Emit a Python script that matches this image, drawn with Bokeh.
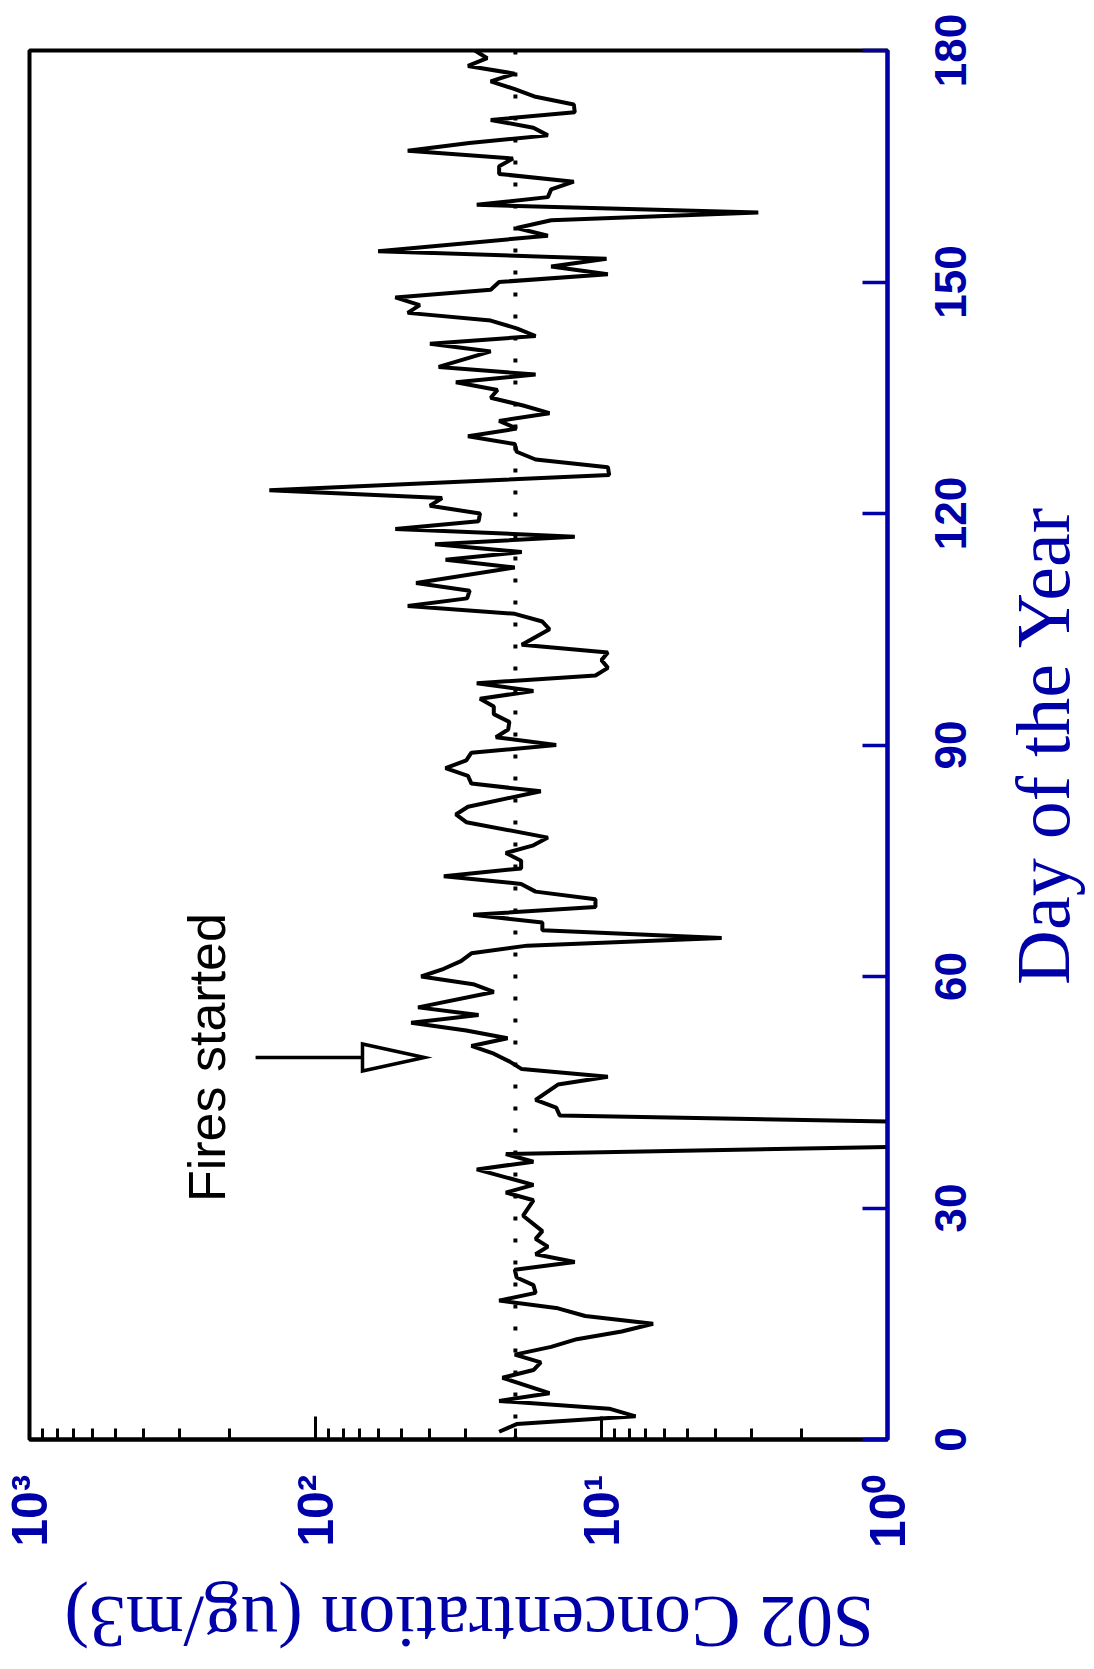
import math

from bokeh.core.properties import value
from bokeh.embed import file_html
from bokeh.layouts import column, row
from bokeh.models import FixedTicker, Label, Range1d, Span
from bokeh.plotting import figure
from bokeh.resources import INLINE

# Daily SO2 concentration (ug/m3) by day of the year
days = [1, 2, 3, 4, 5, 6, 8, 9, 10, 11, 12, 13, 14, 15, 16, 17, 18, 19, 20, 21,
        22, 23, 24, 25, 26, 27, 29, 31, 32, 33, 35, 36, 37, 38, 41, 42, 43, 44,
        46, 47, 48, 49, 50, 51, 52, 53, 54, 55, 56, 58, 59, 60, 61, 62, 63, 64,
        65, 66, 67, 68, 69, 70, 71, 72, 73, 74, 75, 76, 77, 78, 80, 81, 82, 84,
        85, 86, 87, 88, 89, 90, 91, 92, 93, 94, 95, 96, 97, 98, 99, 100, 101,
        102, 103, 105, 106, 107, 108, 109, 110, 111, 113, 114, 115, 116, 117,
        118, 119, 120, 121, 122, 123, 125, 126, 127, 128, 129, 130, 131, 132,
        133, 134, 135, 136, 137, 138, 139, 141, 142, 143, 144, 145, 146, 147,
        148, 149, 150, 151, 152, 153, 154, 156, 157, 158, 159, 160, 161, 162,
        163, 164, 165, 166, 167, 168, 169, 170, 171, 172, 173, 174, 175, 176,
        177, 178, 179, 180]
so2 = [22.8, 19.8, 7.6, 9.4, 22.8, 15.2, 22.2, 17.3, 16.3, 20.1, 15.0, 12.2,
       8.5, 6.6, 11.4, 14.2, 22.8, 17.0, 17.3, 19.8,
       20.1, 12.4, 17.0, 15.4, 17.0, 16.1, 18.8, 17.3, 21.6, 17.3, 27.3, 17.3,
       21.6, 0.7, 0.5, 14.0, 14.4, 17.0,
       14.2, 9.5, 19.0, 21.0, 23.8, 28.5, 21.3, 29.7, 46.3, 26.9, 43.8, 23.8,
       28.1, 42.7, 35.6, 31.0, 28.5, 18.2,
       3.8, 16.1, 16.1, 28.1, 10.5, 10.5, 17.0, 19.1, 35.6, 19.1, 19.1, 21.6,
       17.3, 15.4, 29.7, 32.3, 29.3, 16.3,
       28.5, 29.3, 35.1, 29.7, 28.5, 14.4, 23.4, 21.2, 21.0, 23.8, 23.8, 26.6,
       17.3, 27.3, 10.5, 9.5, 10.0,
       9.5, 19.0, 15.2, 16.1, 20.1, 47.6, 29.5, 28.9, 44.5, 20.1, 35.1, 19.0,
       38.2, 12.4,
       52.6, 26.9, 26.6, 39.8, 36.1, 145.0, 9.4, 9.5, 17.0, 19.8, 20.1, 29.3,
       19.8, 22.8,
       15.2, 18.8, 24.4, 23.1, 32.3, 17.0, 37.1, 24.4, 39.8, 17.0, 19.8, 24.4,
       47.6, 43.2,
       52.6, 24.4, 22.8, 9.5, 15.0, 9.6, 60.4, 15.4, 19.8, 15.0, 2.83, 27.3,
       15.4, 15.0,
       12.5, 22.8, 22.8, 20.4, 47.6, 29.0, 15.4, 17.3, 24.4, 12.4, 12.5, 17.0,
       20.1, 24.4,
       20.1, 29.3, 25.1, 27.7]

standard_level = 20          # dotted reference level, ug/m3
fire_start_day = 49.5        # day the fires started
arrow_tail, arrow_base, arrow_tip = 162, 68.5, 41.6   # arrow extent, ug/m3
arrow_half_width = 1.75      # half height of the arrow head, days
fire_label_x = 240           # centre of the note, ug/m3

day_min, day_max = 0, 180
day_ticks = [0, 30, 60, 90, 120, 150, 180]
conc_ticks = [1, 10, 100, 1000]
conc_labels = {1: "10⁰", 10: "10¹", 100: "10²", 1000: "10³"}
conc_minor = [m * 10 ** e for e in range(3) for m in range(2, 10)]

BLUE = "#0000a8"

# page split: main plot, a strip under it for the x title,
# a strip on the right for the day labels and the y title
TOTAL_W, TOTAL_H = 1094, 1669
MAIN_W, MAIN_H = 925, 1575
FRAME_LEFT, FRAME_RIGHT = 29, 887
FRAME_TOP, FRAME_BOTTOM = 50, 1439

p = figure(width=MAIN_W, height=MAIN_H, output_backend="svg", toolbar_location=None,
           x_axis_type="log", x_range=Range1d(1000, 1), y_range=Range1d(day_min, day_max),
           x_axis_location="below", y_axis_location="right",
           min_border_left=FRAME_LEFT, min_border_right=MAIN_W - FRAME_RIGHT,
           min_border_top=FRAME_TOP, min_border_bottom=MAIN_H - FRAME_BOTTOM,
           background_fill_color="white", border_fill_color="white")

p.xgrid.visible = False
p.ygrid.visible = False
p.outline_line_color = "black"
p.outline_line_width = 4

# concentration axis (log)
xa = p.xaxis[0]
xa.ticker = FixedTicker(ticks=conc_ticks, minor_ticks=conc_minor)
xa.major_label_overrides = conc_labels
xa.major_label_orientation = math.pi / 2
xa.axis_line_color = "black"
xa.axis_line_width = 4
xa.major_tick_in = 23
xa.major_tick_out = 0
xa.minor_tick_in = 11
xa.minor_tick_out = 0
xa.major_tick_line_color = "black"
xa.major_tick_line_width = 3
xa.minor_tick_line_color = "black"
xa.minor_tick_line_width = 3
xa.major_label_standoff = 35
xa.major_label_text_color = BLUE
xa.major_label_text_font = "Liberation Sans"
xa.major_label_text_font_style = "bold"
xa.major_label_text_font_size = "50px"

# day-of-year axis: line and ticks here, its labels are set in the right strip
ya = p.yaxis[0]
ya.ticker = FixedTicker(ticks=day_ticks, minor_ticks=[])
ya.axis_line_color = BLUE
ya.axis_line_width = 4
ya.major_tick_in = 25
ya.major_tick_out = 0
ya.minor_tick_in = 0
ya.minor_tick_out = 0
ya.major_tick_line_color = BLUE
ya.major_tick_line_width = 3.5
ya.major_label_overrides = {t: "" for t in day_ticks}
ya.major_label_text_font_size = "1px"
ya.major_label_standoff = 0

# reference level
p.add_layout(Span(location=standard_level, dimension="height", line_color="black",
                  line_width=4, line_dash="4 18"))

# concentration series
p.line(so2, days, line_color="black", line_width=4, line_join="bevel")

# "Fires started" arrow
p.segment(x0=[arrow_tail], y0=[fire_start_day], x1=[arrow_base], y1=[fire_start_day],
          line_color="black", line_width=3.5)
p.patch([arrow_base, arrow_tip, arrow_base],
        [fire_start_day - arrow_half_width, fire_start_day, fire_start_day + arrow_half_width],
        fill_color="white", line_color="black", line_width=3.5, line_join="miter")
p.add_layout(Label(x=fire_label_x, y=fire_start_day, text="Fires started", angle=math.pi / 2,
                   text_align="center", text_baseline="middle",
                   text_font="Liberation Sans", text_font_size="52px",
                   text_color="black"))


def strip(width, height, y_range=None):
    """A bare panel with pixel x units, used for rotated texts beside the plot."""
    s = figure(width=width, height=height, output_backend="svg", toolbar_location=None,
               x_range=Range1d(0, width),
               y_range=y_range if y_range is not None else Range1d(0, height),
               x_axis_location=None, y_axis_location=None,
               min_border_left=0, min_border_right=0, min_border_top=0, min_border_bottom=0,
               background_fill_color="white", border_fill_color="white")
    s.xgrid.visible = False
    s.ygrid.visible = False
    s.outline_line_color = None
    return s


# x title, upside down under the tick labels
bottom = strip(MAIN_W, TOTAL_H - MAIN_H)
bottom.add_layout(Label(x=474, y=48, text="S02 Concentration (ug/m3)", angle=math.pi,
                        text_align="center", text_baseline="middle",
                        text_font="Liberation Serif", text_font_size="74px",
                        text_color=BLUE))

# right strip shares the day scale of the plot frame, extended over the margins
px_per_day = (FRAME_BOTTOM - FRAME_TOP) / (day_max - day_min)
day_span = Range1d(day_min - (TOTAL_H - FRAME_BOTTOM) / px_per_day,
                   day_max + FRAME_TOP / px_per_day)
right = strip(TOTAL_W - MAIN_W, TOTAL_H, y_range=day_span)

# day tick labels, reading upwards
right.text(x=[25] * len(day_ticks), y=day_ticks, text=[str(t) for t in day_ticks],
           angle=math.pi / 2, text_align="center", text_baseline="middle",
           text_font=value("Liberation Sans"), text_font_style="bold",
           text_font_size="44px", text_color=BLUE)

# y title
right.add_layout(Label(x=117, y=(day_min + day_max) / 2, text="Day of the Year",
                       angle=math.pi / 2, text_align="center", text_baseline="middle",
                       text_font="Liberation Serif", text_font_size="76px",
                       text_color=BLUE))

layout = row(column(p, bottom), right)

open("out.html", "w").write(file_html(layout, INLINE))
